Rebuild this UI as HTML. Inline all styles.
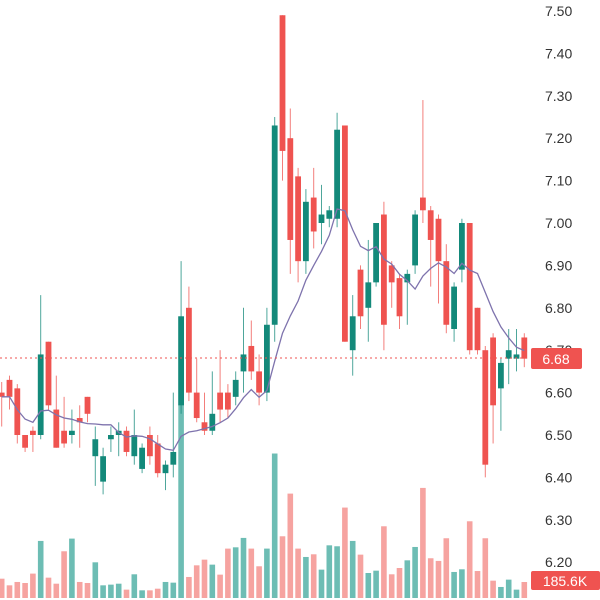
<!DOCTYPE html>
<html><head><meta charset="utf-8"><style>
html,body{margin:0;padding:0;background:#fff;}
svg{display:block;font-family:"Liberation Sans",sans-serif;}
</style></head><body>
<svg id="chart" width="600" height="600" viewBox="0 0 600 600" xmlns="http://www.w3.org/2000/svg">
<g id="vol"></g>
<g id="candles"></g>
<path id="ma" fill="none" stroke="#7e73ad" stroke-width="1.3"/>
<line x1="0" x2="530" y1="358" y2="358" stroke="#ef5350" stroke-width="1" stroke-dasharray="2,3"/>
<g id="axis"></g>
<rect x="531" y="348" width="51" height="21" rx="2" fill="#ef5350"/>
<text x="556" y="364" font-size="14" fill="#fff" text-anchor="middle">6.68</text>
<rect x="531" y="571" width="69" height="19" rx="2" fill="#ef5350"/>
<text x="565" y="586" font-size="14" fill="#fff" text-anchor="middle">185.6K</text>
</svg>
<script>
const opens =[6.60,6.63,6.61,6.50,6.51,6.50,6.72,6.56,6.51,6.50,6.54,6.59,6.45,6.39,6.49,6.50,6.51,6.45,6.42,6.50,6.48,6.41,6.43,6.57,6.80,6.60,6.53,6.51,6.60,6.60,6.59,6.65,6.71,6.65,6.60,6.76,7.49,7.20,7.11,6.91,7.06,7.00,7.01,7.01,7.23,6.70,6.89,6.80,6.86,7.02,6.90,6.87,6.86,6.90,7.06,7.03,7.01,6.91,6.75,6.89,7.00,6.80,6.70,6.73,6.61,6.68,6.68,6.73];
const highs =[6.625,6.64,6.62,6.50,6.52,6.83,6.72,6.64,6.59,6.56,6.57,6.59,6.52,6.47,6.52,6.53,6.52,6.56,6.48,6.52,6.50,6.44,6.60,6.91,6.85,6.68,6.60,6.65,6.70,6.62,6.65,6.80,6.77,6.69,6.80,7.25,7.49,7.27,7.13,7.08,7.13,7.09,7.04,7.26,7.23,6.83,6.90,6.96,7.00,7.05,6.91,6.88,6.89,7.03,7.29,7.04,7.02,6.95,6.86,7.01,7.00,6.80,6.71,6.74,6.68,6.75,6.75,6.74];
const lows  =[6.52,6.56,6.48,6.46,6.46,6.49,6.56,6.47,6.47,6.48,6.47,6.53,6.38,6.36,6.46,6.45,6.45,6.43,6.41,6.43,6.40,6.37,6.40,6.55,6.58,6.53,6.50,6.50,6.53,6.54,6.57,6.60,6.63,6.57,6.58,6.72,7.10,6.88,6.86,6.88,6.94,6.95,6.99,6.99,6.72,6.64,6.75,6.72,6.85,6.70,6.80,6.75,6.76,6.88,7.00,6.85,6.81,6.74,6.72,6.86,6.69,6.69,6.40,6.48,6.51,6.62,6.65,6.66];
const closes=[6.59,6.59,6.50,6.47,6.50,6.69,6.57,6.47,6.48,6.51,6.53,6.55,6.49,6.45,6.50,6.51,6.46,6.50,6.47,6.45,6.41,6.43,6.46,6.78,6.60,6.54,6.51,6.55,6.56,6.56,6.63,6.69,6.65,6.60,6.76,7.23,7.17,6.96,6.91,7.05,6.98,7.02,7.03,7.22,6.72,6.78,6.78,6.86,7.00,6.76,6.86,6.78,6.88,7.02,7.03,6.96,6.91,6.76,6.85,7.00,6.70,6.70,6.43,6.57,6.67,6.70,6.69,6.68];
const volumes=[224,147,186,174,283,662,236,166,542,689,186,174,414,147,155,166,97,275,89,89,108,186,178,2240,244,379,445,387,271,573,588,697,573,368,573,1676,716,1211,573,476,507,329,611,600,1049,662,503,290,317,832,275,348,437,592,1277,461,430,693,302,333,890,313,693,201,128,213,97,185.6];
const priceTicks=["7.50","7.40","7.30","7.20","7.10","7.00","6.90","6.80","6.70","6.60","6.50","6.40","6.30","6.20"];

const NS="http://www.w3.org/2000/svg";
const yP=p=>11+(7.5-p)*424;
const xI=i=>1.7+i*7.8;
const yV=v=>598-v/11.6;
const up="#13897a", dn="#ef5350";
const vg=document.getElementById('vol'), cg=document.getElementById('candles'), ag=document.getElementById('axis');
volumes.forEach((v,i)=>{
  const r=document.createElementNS(NS,'rect');
  
  
  r.setAttribute('x',xI(i)-2.8);r.setAttribute('width',5.6);
  r.setAttribute('y',yV(v));r.setAttribute('height',598-yV(v));
  r.setAttribute('fill',closes[i]>=opens[i]?'#6dbdb4':'#f6a3a0');
  vg.appendChild(r);
});
opens.forEach((o,i)=>{
  const c=closes[i],col=c>=o?up:dn,x=xI(i);
  const w=document.createElementNS(NS,'line');
  
  
  w.setAttribute('x1',x);w.setAttribute('x2',x);
  w.setAttribute('y1',yP(highs[i]));w.setAttribute('y2',yP(lows[i]));
  w.setAttribute('stroke',col);w.setAttribute('stroke-width',1);w.setAttribute('opacity',0.75);
  cg.appendChild(w);
  const b=document.createElementNS(NS,'rect');
  
  
  const t=yP(Math.max(o,c)),h=Math.max(2,Math.abs(yP(o)-yP(c)));
  b.setAttribute('x',x-2.9);b.setAttribute('width',5.8);
  b.setAttribute('y',t);b.setAttribute('height',h);b.setAttribute('fill',col);
  cg.appendChild(b);
});
let d="";
closes.forEach((c,i)=>{
  const s=closes.slice(Math.max(0,i-9),i+1);
  const m=s.reduce((a,b)=>a+b,0)/s.length;
  d+=(i?"L":"M")+xI(i).toFixed(1)+","+yP(m).toFixed(1);
});
document.getElementById('ma').setAttribute('d',d);
priceTicks.forEach(t=>{
  const tx=document.createElementNS(NS,'text');
  
  
  tx.setAttribute('x',545);tx.setAttribute('y',yP(parseFloat(t))+5);
  tx.setAttribute('font-size',14);tx.setAttribute('fill','#333');
  tx.textContent=t;
  ag.appendChild(tx);
});
</script>
</body></html>
